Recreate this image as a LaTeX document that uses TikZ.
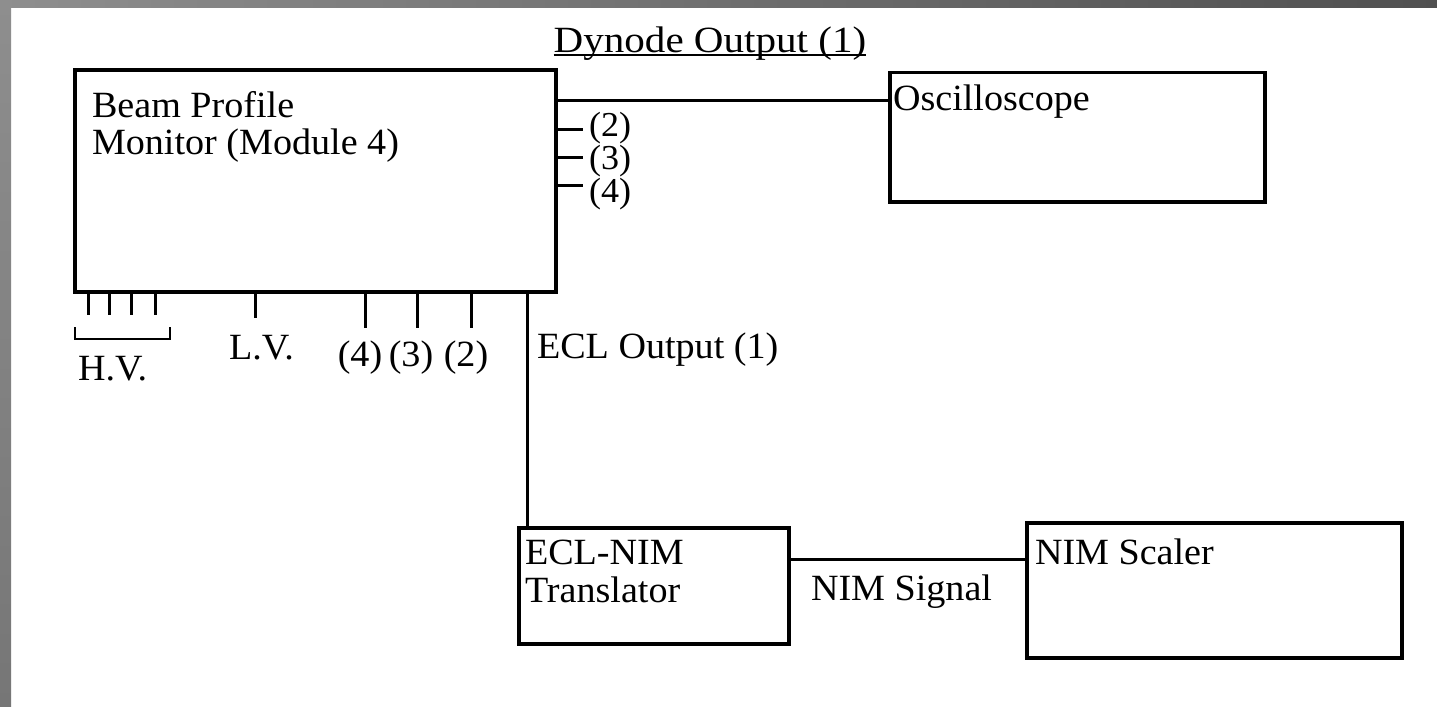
\documentclass[tikz,border=0pt]{standalone}
\usepackage{fontspec}
\setmainfont[FakeStretch=1.03]{Liberation Serif}
\newfontfamily\widefont[FakeStretch=1.11]{Liberation Serif}
\usetikzlibrary{fit,calc}
\definecolor{bandA}{RGB}{142,142,142}
\definecolor{bandB}{RGB}{118,118,118}
\definecolor{bandC}{RGB}{80,80,80}
\begin{document}
\begin{tikzpicture}[x=0.5pt,y=-0.5pt,
  box/.style={draw=black,line width=1.75pt,inner sep=0pt,outer sep=0pt},
  wire/.style={line width=1.5pt},
  thinwire/.style={line width=1pt},
  lbl/.style={inner sep=0pt,outer sep=0pt,font=\fontsize{18.5pt}{22pt}\selectfont},
  pinlbl/.style={inner sep=0pt,outer sep=0pt,font=\fontsize{17.5pt}{21pt}\selectfont}]
\useasboundingbox (0,0) rectangle (1437,707);
\fill[white] (0,0) rectangle (1437,707);
\shade[top color=bandA,bottom color=bandB] (0,0) rectangle (11,707);
\shade[left color=bandA,right color=bandC] (0,0) rectangle (1437,7);

% boxes
\node[box, fit={(75,70) (556,292)}] (bpm) {};
\node[box, fit={(890,72.5) (1265,202)}] (osc) {};
\node[box, fit={(519,528) (789,644)}] (ecl) {};
\node[box, fit={(1027,523) (1402,658)}] (nim) {};

% box texts
\node[lbl, anchor=base west] (bpmA) at (92,117) {Beam Profile};
\node[lbl, anchor=base west] (bpmB) at (92,154) {Monitor (Module 4)};
\node[lbl, anchor=base west] (oscT) at (893,110) {Oscilloscope};
\node[lbl, anchor=base west] (eclA) at (525,564) {ECL-NIM};
\node[lbl, anchor=base west] (eclB) at (525,602) {Translator};
\node[lbl, anchor=base west] (nimT) at (1035,564) {NIM Scaler};

% dynode output
\node[lbl, anchor=base, font=\widefont\fontsize{18.5pt}{22pt}\selectfont] (dyn) at (710,52) {Dynode Output (1)};
\draw[thinwire] ($(dyn.base west)+(0,3)$) -- ($(dyn.base east)+(0,3)$);
\draw[wire] ($(bpm.north east)+(0,30)$) -- ($(osc.north west)+(0,27.5)$);

% side pins
\foreach \dy in {59,87,115} \draw[wire] ($(bpm.north east)+(0,\dy)$) -- ++(27,0);
\node[pinlbl, anchor=base west] (s2) at (589,136) {(2)};
\node[pinlbl, anchor=base west] (s3) at (589,169) {(3)};
\node[pinlbl, anchor=base west] (s4) at (589,202) {(4)};

% bottom pins
\foreach \x/\len in {13/23, 34/23, 56/23, 80/23, 180/26, 290/36, 342/36, 396/36}
  \draw[wire] ($(bpm.south west)+(\x,0)$) -- ++(0,\len);
\draw[thinwire] (75,327) -- (75,339) -- (170,339) -- (170,327);
\node[lbl, anchor=base west] (hv) at (78,380) {H.V.};
\node[lbl, anchor=base west] (lv) at (229,359) {L.V.};
\node[lbl, anchor=base] (b4) at (360,366) {(4)};
\node[lbl, anchor=base] (b3) at (411,366) {(3)};
\node[lbl, anchor=base] (b2) at (466,366) {(2)};

% ECL output
\draw[wire] ($(bpm.south west)+(452,0)$) -- ($(ecl.north west)+(8,0)$);
\node[lbl, anchor=base west] (eclout) at (537,358) {ECL Output (1)};

% NIM signal
\draw[wire] ($(ecl.north east)+(0,31)$) -- ($(nim.north west)+(0,36)$);
\node[lbl, anchor=base west] (nimsig) at (811,600) {NIM Signal};
\end{tikzpicture}
\end{document}
